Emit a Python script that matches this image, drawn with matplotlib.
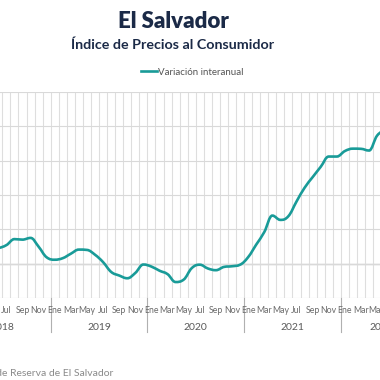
import matplotlib
matplotlib.use("Agg")
import matplotlib.pyplot as plt
from matplotlib.path import Path
from matplotlib.patches import PathPatch
from matplotlib.transforms import blended_transform_factory

# Variación interanual del IPC (%), mes 0 = enero 2018
mes_inicio = 4
variacion = [
    1.00, 0.93, 1.08, 1.43, 1.40, 1.50, 0.99, 0.37,          # may-dic 2018
    0.23, 0.32, 0.58, 0.82, 0.80, 0.52, 0.09, -0.48,         # 2019
    -0.69, -0.85, -0.54, -0.05,
    -0.17, -0.41, -0.61, -1.07, -0.93, -0.26, -0.06, -0.28,  # 2020
    -0.38, -0.19, -0.15, -0.06,
    0.38, 1.11, 1.84, 2.80, 2.55, 2.77, 3.62, 4.42,          # 2021
    5.04, 5.64, 6.24, 6.24,
    6.56, 6.70, 6.69, 6.59, 7.46, 7.80,                      # ene-jun 2022
]
meses_abrev = ["Ene", "Feb", "Mar", "Abr", "May", "Jun",
               "Jul", "Ago", "Sep", "Oct", "Nov", "Dic"]
anios = [2018, 2019, 2020, 2021, 2022]
ultimo_mes = 57  # octubre 2022, último mes de la categoría

teal = "#199b98"
navy = "#1b2a47"

x = list(range(mes_inicio, mes_inicio + len(variacion)))
x_min, x_max = 5.21, 52.36


def spline_path(xs, ys, smoothing=1.5):
    # curva suave tipo "spline" de Highcharts
    n = len(xs)
    left = [None] * n
    right = [None] * n
    right[0] = (xs[0], ys[0])
    left[-1] = (xs[-1], ys[-1])
    d = smoothing + 1
    for i in range(1, n - 1):
        lx = (smoothing * xs[i] + xs[i - 1]) / d
        ly = (smoothing * ys[i] + ys[i - 1]) / d
        rx = (smoothing * xs[i] + xs[i + 1]) / d
        ry = (smoothing * ys[i] + ys[i + 1]) / d
        corr = (ry - ly) * (rx - xs[i]) / (rx - lx) + ys[i] - ry
        ly += corr
        ry += corr
        if ly > max(ys[i - 1], ys[i]):
            ly = max(ys[i - 1], ys[i]); ry = 2 * ys[i] - ly
        elif ly < min(ys[i - 1], ys[i]):
            ly = min(ys[i - 1], ys[i]); ry = 2 * ys[i] - ly
        if ry > max(ys[i], ys[i + 1]):
            ry = max(ys[i], ys[i + 1]); ly = 2 * ys[i] - ry
        elif ry < min(ys[i], ys[i + 1]):
            ry = min(ys[i], ys[i + 1]); ly = 2 * ys[i] - ry
        left[i] = (lx, ly)
        right[i] = (rx, ry)
    verts = [(xs[0], ys[0])]
    codes = [Path.MOVETO]
    for i in range(1, n):
        verts += [right[i - 1], left[i], (xs[i], ys[i])]
        codes += [Path.CURVE4] * 3
    return Path(verts, codes)


W = H = 380
fig = plt.figure(figsize=(3.8, 3.8), dpi=100)
fig.patch.set_facecolor("white")

# el área del gráfico sale del recorte a ambos lados
ax = fig.add_axes([0, 1 - 298 / H, 1, (298 - 92) / H])

for s in ax.spines.values():
    s.set_visible(False)

ax.set_xticks([m - 0.5 for m in range(0, ultimo_mes + 2)], minor=True)
ax.set_xticks([])
ax.set_yticks(range(-2, 11, 2))
ax.tick_params(which="both", length=0, labelleft=False, labelbottom=False)
ax.grid(which="minor", axis="x", color="#dedede", lw=0.8)
ax.grid(which="major", axis="y", color="#d9d9d9", lw=0.8)
ax.axhline(0, color="#a0a0a0", lw=0.9, zorder=1)

ax.add_patch(PathPatch(spline_path(x, variacion), fill=False,
                       edgecolor=teal, lw=1.9, capstyle="round", zorder=3))
ax.plot([], [], color=teal, lw=1.9, label="Variación interanual")

tr = blended_transform_factory(ax.transData, ax.transAxes)
for k, a in enumerate(anios):
    base = 12 * k
    fin = min(base + 11, ultimo_mes)
    for j in range(0, 12, 2):
        if base + j < x_min or base + j > fin:
            continue
        ax.text(base + j, -0.062, meses_abrev[j], transform=tr, ha="center",
                va="center", fontsize=6.3, color="#6a6a6a", family="Lato",
                clip_on=False)
    ax.text((base + fin) / 2, -0.144, str(a), transform=tr, ha="center",
            va="center", fontsize=7.5, color="#5a5a5a", family="Lato",
            clip_on=False)
    ax.plot([base - 0.5, base - 0.5], [0, -0.165], transform=tr,
            color="#b0b0b0", lw=0.8, clip_on=False)

# límites al final para que plot() no los reescale
ax.set_xlim(x_min, x_max)
ax.set_ylim(-2, 10)

fig.text(173.5 / W, 1 - 21.7 / H, "El Salvador", ha="center", va="center",
         fontsize=16, fontweight="heavy", color=navy, family="Lato")
fig.text(173 / W, 1 - 45 / H, "Índice de Precios al Consumidor",
         ha="center", va="center", fontsize=10.3, fontweight="bold",
         color=navy, family="Lato")

fig.legend(loc="center", bbox_to_anchor=(192 / W, 1 - 72.3 / H),
           frameon=False, handlelength=1.6, handletextpad=0.1,
           prop={"family": "Lato", "size": 7}, labelcolor="#555555")

fig.text(113 / W, 1 - 373 / H, "Fuente: Banco Central de Reserva de El Salvador",
         ha="right", va="center", fontsize=7.5, color="#8a8a8a", family="Lato")

fig.savefig("out.png", dpi=100)
